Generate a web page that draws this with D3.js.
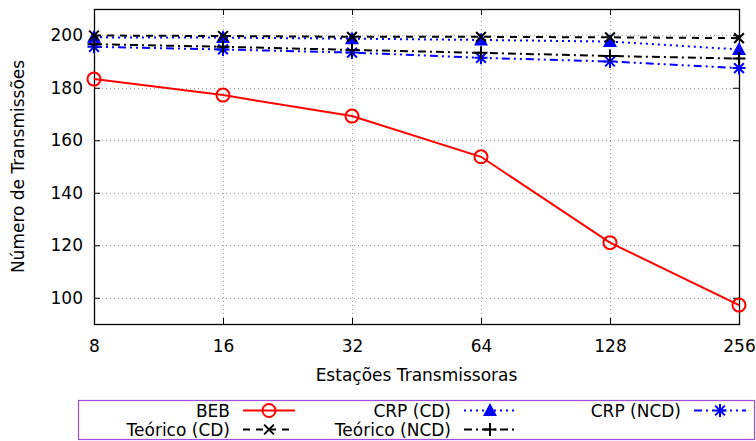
<!DOCTYPE html>
<html>
<head>
  <meta charset="utf-8">
  <script src="https://d3js.org/d3.v7.min.js"></script>
  <style>
    body { margin: 0; background: #fff; }
    text { font-family: "DejaVu Sans", sans-serif; fill: #000; }
  </style>
</head>
<body>
<script>
  // data
  var stations = [8, 16, 32, 64, 128, 256];
  var yTicks = [100, 120, 140, 160, 180, 200];
  var beb = [183.3, 177.2, 169.2, 153.7, 121.0, 97.2];
  var crpCD = [199.2, 199.1, 198.7, 198.2, 197.6, 194.6];
  var crpNCD = [195.6, 194.6, 193.4, 191.4, 190.0, 187.5];
  var teoCD = [199.9, 199.7, 199.4, 199.4, 199.2, 198.9];
  var teoNCD = [196.6, 195.6, 194.4, 193.3, 192.1, 191.1];
  var seriesNames = ["BEB", "CRP (CD)", "CRP (NCD)", "Teórico (CD)", "Teórico (NCD)"];

  var W = 756, H = 441;
  var pLeft = 94, pRight = 739, pTop = 9, pBottom = 324;
  var fs = "17px";

  var svg = d3.select("body").append("svg")
    .attr("width", W).attr("height", H);

  var x = d3.scaleLog().base(2).domain([8, 256]).range([pLeft, pRight]);
  var y = d3.scaleLinear().domain([90, 210]).range([pBottom, pTop]);

  // grid
  var grid = svg.append("g").attr("stroke", "#a0a0a0").attr("stroke-width", 1)
    .attr("stroke-dasharray", "1,3");
  grid.selectAll(".gy").data(yTicks).enter().append("line")
    .attr("x1", pLeft).attr("x2", pRight)
    .attr("y1", function(d) { return Math.round(y(d)) + 0.5; })
    .attr("y2", function(d) { return Math.round(y(d)) + 0.5; });
  grid.selectAll(".gx").data(stations.slice(1, -1)).enter().append("line")
    .attr("y1", pTop).attr("y2", pBottom)
    .attr("x1", function(d) { return Math.round(x(d)) + 0.5; })
    .attr("x2", function(d) { return Math.round(x(d)) + 0.5; });

  // axes (inner ticks, mirrored)
  var xAxis = d3.axisBottom(x).tickValues(stations).tickFormat(d3.format("d"))
    .tickSizeInner(-6).tickSizeOuter(0).tickPadding(16);
  var yAxis = d3.axisLeft(y).tickValues(yTicks)
    .tickSizeInner(-6).tickSizeOuter(0).tickPadding(11);
  var xAxisTop = d3.axisTop(x).tickValues(stations).tickFormat("")
    .tickSizeInner(-6).tickSizeOuter(0);
  var yAxisRight = d3.axisRight(y).tickValues(yTicks).tickFormat("")
    .tickSizeInner(-6).tickSizeOuter(0);

  function styleAxis(g) {
    g.select(".domain").remove();
    g.selectAll("line").attr("stroke", "#000");
    g.selectAll("text").style("font-size", fs).style("font-family", "DejaVu Sans").attr("fill", "#000");
  }
  svg.append("g").attr("transform", "translate(0," + pBottom + ")").call(xAxis).call(styleAxis);
  svg.append("g").attr("transform", "translate(" + pLeft + ",0)").call(yAxis).call(styleAxis);
  svg.append("g").attr("transform", "translate(0," + pTop + ")").call(xAxisTop).call(styleAxis);
  svg.append("g").attr("transform", "translate(" + pRight + ",0)").call(yAxisRight).call(styleAxis);

  svg.append("rect").attr("x", pLeft + 0.5).attr("y", pTop + 0.5)
    .attr("width", pRight - pLeft).attr("height", pBottom - pTop)
    .attr("fill", "none").attr("stroke", "#000").attr("stroke-width", 1.3);

  // axis labels
  svg.append("text").attr("x", (pLeft + pRight) / 2).attr("y", 381)
    .attr("text-anchor", "middle").style("font-size", fs).text("Estações Transmissoras");
  svg.append("text").attr("transform", "translate(24," + ((pTop + pBottom) / 2) + ") rotate(-90)")
    .attr("text-anchor", "middle").style("font-size", fs).text("Número de Transmissões");

  // marker drawing
  function marker(g, type, color, cx, cy) {
    if (type === "circle") {
      g.append("circle").attr("cx", cx).attr("cy", cy).attr("r", 6.5)
        .attr("fill", "none").attr("stroke", color).attr("stroke-width", 2);
    } else if (type === "triangle") {
      g.append("path").attr("d", "M" + cx + "," + (cy - 7.5) + "L" + (cx + 7) + "," + (cy + 5.5) + "L" + (cx - 7) + "," + (cy + 5.5) + "Z")
        .attr("fill", color);
    } else {
      var s = 6.5, p = "";
      if (type === "plus" || type === "star") p += "M" + (cx - s) + "," + cy + "h" + 2 * s + "M" + cx + "," + (cy - s) + "v" + 2 * s;
      if (type === "cross" || type === "star") p += "M" + (cx - s * 0.75) + "," + (cy - s * 0.75) + "l" + 1.5 * s + "," + 1.5 * s +
        "M" + (cx - s * 0.75) + "," + (cy + s * 0.75) + "l" + 1.5 * s + "," + (-1.5 * s);
      g.append("path").attr("d", p).attr("stroke", color).attr("stroke-width", 2).attr("fill", "none");
    }
  }

  var series = [
    { name: seriesNames[0], values: beb, color: "#ff0000", dash: null, mark: "circle" },
    { name: seriesNames[1], values: crpCD, color: "#0000ff", dash: "2,4", mark: "triangle" },
    { name: seriesNames[2], values: crpNCD, color: "#0000ff", dash: "8,4,2,4,2,4", mark: "star" },
    { name: seriesNames[3], values: teoCD, color: "#000000", dash: "7,6", mark: "cross" },
    { name: seriesNames[4], values: teoNCD, color: "#000000", dash: "8,4,2,4", mark: "plus" }
  ];

  var line = d3.line()
    .x(function(d, i) { return x(stations[i]); })
    .y(function(d) { return y(d); });

  series.forEach(function(s) {
    var g = svg.append("g");
    g.append("path").attr("d", line(s.values)).attr("fill", "none")
      .attr("stroke", s.color).attr("stroke-width", 2)
      .attr("stroke-dasharray", s.dash);
    s.values.forEach(function(v, i) { marker(g, s.mark, s.color, x(stations[i]), y(v)); });
  });

  // legend
  svg.append("rect").attr("x", 78.5).attr("y", 400.5).attr("width", 676).attr("height", 39)
    .attr("fill", "none").attr("stroke", "#a24ddb").attr("stroke-width", 1.2);
  var colEnds = [230, 451, 681], rowY = [410.5, 429.5];
  series.forEach(function(s, i) {
    var col = i % 3, row = Math.floor(i / 3);
    var tx = colEnds[col], ty = rowY[row];
    var g = svg.append("g");
    g.append("text").attr("x", tx).attr("y", ty).attr("dy", "0.36em")
      .attr("text-anchor", "end").style("font-size", fs).text(s.name);
    g.append("line").attr("x1", tx + 13).attr("x2", tx + 65).attr("y1", ty).attr("y2", ty)
      .attr("stroke", s.color).attr("stroke-width", 2).attr("stroke-dasharray", s.dash);
    marker(g, s.mark, s.color, tx + 39, ty);
  });
</script>
</body>
</html>
